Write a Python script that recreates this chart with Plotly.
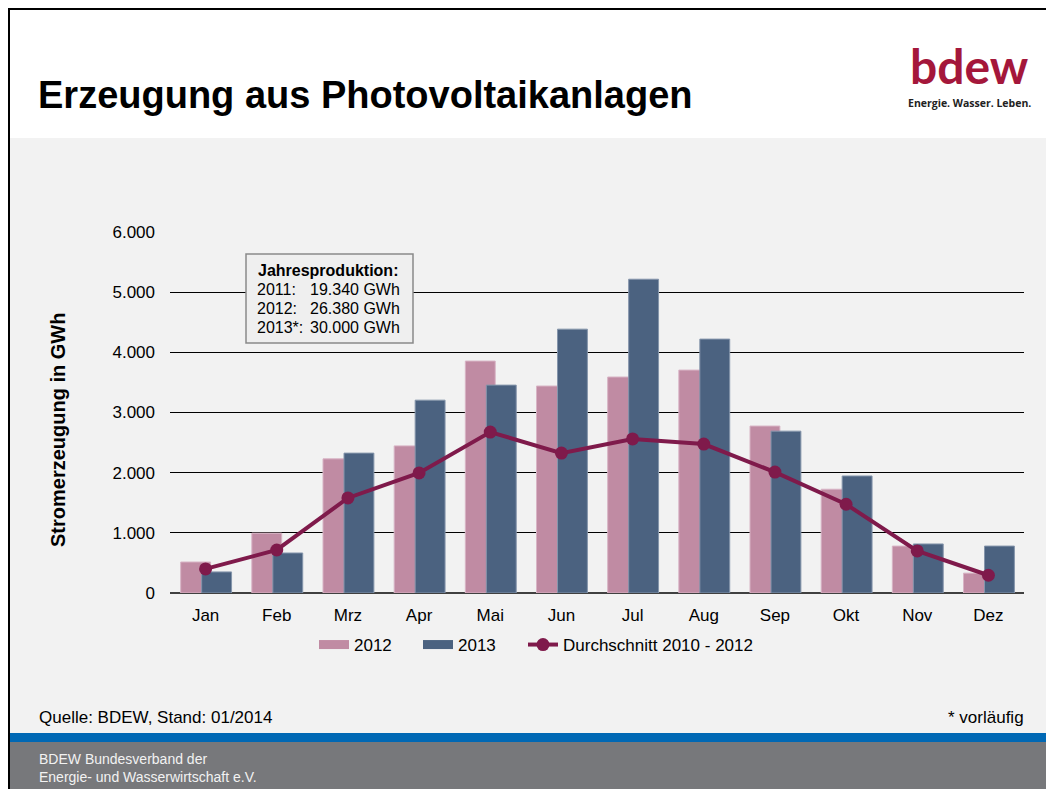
import plotly.graph_objects as go

months = ["Jan", "Feb", "Mrz", "Apr", "Mai", "Jun", "Jul", "Aug", "Sep", "Okt", "Nov", "Dez"]
v2012 = [515, 995, 2230, 2445, 3855, 3440, 3590, 3705, 2775, 1725, 780, 330]
v2013 = [350, 665, 2325, 3205, 3455, 4385, 5215, 4220, 2690, 1945, 815, 780]
avg = [400, 715, 1580, 1995, 2675, 2325, 2560, 2475, 2010, 1475, 700, 295]
y_ticks = [0, 1000, 2000, 3000, 4000, 5000, 6000]
y_tick_labels = ["0", "1.000", "2.000", "3.000", "4.000", "5.000", "6.000"]
info_labels = ["2011:", "2012:", "2013*:"]
info_values = ["19.340 GWh", "26.380 GWh", "30.000 GWh"]

OFF = 0  # body margin removed by post_script
W, H = 1046 - OFF, 789 - OFF
PL, PR, PT, PB = 170, 1024, 232, 593  # plot area in screen pixels
FONT = "Liberation Sans, Arial, sans-serif"

C2012 = "#c08ba3"
C2013 = "#4b6280"
CAVG = "#7f1a4b"

def px(x):
    return (x - PL) / (PR - PL)

def py(y):
    return (PB - y) / (PB - PT)

fig = go.Figure()
fig.add_trace(go.Bar(
    x=months, y=v2012, name="2012", width=0.42, offset=-0.35, showlegend=False,
    marker=dict(color=C2012, line=dict(color="#d8b4c5", width=1)),
))
fig.add_trace(go.Bar(
    x=months, y=v2013, name="2013", width=0.42, offset=-0.055, showlegend=False,
    marker=dict(color=C2013, line=dict(color="#8595ab", width=1)),
))
fig.add_trace(go.Scatter(
    x=months, y=avg, name="Durchschnitt 2010 - 2012", mode="lines+markers",
    line=dict(color=CAVG, width=4), marker=dict(color=CAVG, size=13),
    legend="legend3",
))
fig.add_trace(go.Scatter(x=[None], y=[None], mode="lines", name="2012",
                         line=dict(color=C2012, width=9), legend="legend"))
fig.add_trace(go.Scatter(x=[None], y=[None], mode="lines", name="2013",
                         line=dict(color=C2013, width=9), legend="legend2"))

shapes = []
shapes.append(dict(type="rect", xref="paper", yref="paper", x0=px(0), x1=px(8), y0=py(789), y1=py(0),
                   fillcolor="white", line=dict(width=0), layer="below"))
shapes.append(dict(type="rect", xref="paper", yref="paper", x0=px(0), x1=px(1046), y0=py(8), y1=py(0),
                   fillcolor="white", line=dict(width=0), layer="below"))
shapes.append(dict(type="rect", xref="paper", yref="paper", x0=px(8), x1=px(1046), y0=py(138), y1=py(8),
                   fillcolor="white", line=dict(width=0), layer="below"))
shapes.append(dict(type="line", xref="paper", yref="paper", x0=px(8), x1=px(1046), y0=py(9), y1=py(9),
                   line=dict(color="black", width=2)))
shapes.append(dict(type="line", xref="paper", yref="paper", x0=px(9), x1=px(9), y0=py(8), y1=py(789),
                   line=dict(color="black", width=2)))
shapes.append(dict(type="rect", xref="paper", yref="paper", x0=px(10), x1=px(1046), y0=py(742), y1=py(733),
                   fillcolor="#0068b4", line=dict(width=0)))
shapes.append(dict(type="rect", xref="paper", yref="paper", x0=px(10), x1=px(1046), y0=py(789), y1=py(742),
                   fillcolor="#77787b", line=dict(width=0)))
shapes.append(dict(type="rect", xref="paper", yref="paper", x0=px(246), x1=px(413), y0=py(343), y1=py(254),
                   fillcolor="#efefef", line=dict(color="#8a8a8a", width=1.5)))

def ann(text, x, y, xanchor="left", size=16, family=FONT, color="black", **kw):
    return dict(text=text, xref="paper", yref="paper", x=px(x), y=py(y), xanchor=xanchor,
                yanchor="middle", showarrow=False, font=dict(family=family, size=size, color=color), **kw)

annotations = [
    ann("<b>Erzeugung aus Photovoltaikanlagen</b>", 36, 95, size=38),
    ann("<b>bdew</b>", 969, 66, xanchor="center", size=48, family="Lato, Open Sans, sans-serif", color="#a4173b"),
    ann("<b>Energie. Wasser. Leben.</b>", 969, 103, xanchor="center", size=10.5,
        family="Open Sans, sans-serif", color="#222"),
    ann("<b>Stromerzeugung in GWh</b>", 58, 430, xanchor="center", size=20, textangle=-90),
    ann("<b>Jahresproduktion:</b>", 256, 270, size=16),
    ann("Quelle: BDEW, Stand: 01/2014", 37, 717, size=17),
    ann("* vorläufig", 1026, 717, xanchor="right", size=17),
    ann("BDEW Bundesverband der<br>Energie- und Wasserwirtschaft e.V.", 37, 768, size=14,
        color="#f2f2f2", align="left"),
]
for i, (lab, val) in enumerate(zip(info_labels, info_values)):
    yy = 289 + 19 * i
    annotations.append(ann(lab, 255, yy, size=16))
    annotations.append(ann(val, 308, yy, size=16))

def legend_at(x_text):
    return dict(orientation="h", x=px(x_text - 40), xanchor="left", y=py(645), yanchor="middle",
                font=dict(family=FONT, size=17, color="black"), bgcolor="rgba(0,0,0,0)",
                itemwidth=30)

fig.update_layout(
    width=W, height=H,
    margin=dict(l=PL - OFF, r=W - (PR - OFF), t=PT - OFF, b=H - (PB - OFF)),
    paper_bgcolor="#f2f2f2", plot_bgcolor="#f2f2f2",
    barmode="overlay",
    font=dict(family=FONT, size=16, color="black"),
    showlegend=True,
    legend=legend_at(354),
    legend2=legend_at(458),
    legend3=legend_at(563),
    xaxis=dict(type="category", range=[-0.5, 11.5], showgrid=False, showline=False, ticks="",
               tickfont=dict(family=FONT, size=17), zeroline=False, ticklabelstandoff=10),
    yaxis=dict(range=[0, 6000], tickvals=y_ticks, ticktext=y_tick_labels, showgrid=True,
               gridcolor="black", gridwidth=1, zeroline=True, zerolinecolor="#404040",
               zerolinewidth=2, showline=False, ticks="", ticklabelstandoff=14,
               tickfont=dict(family=FONT, size=17)),
    shapes=shapes, annotations=annotations,
)

fig.write_html("out.html", config={"displayModeBar": False},
               post_script="document.body.style.margin='0';document.body.style.overflow='hidden';")
